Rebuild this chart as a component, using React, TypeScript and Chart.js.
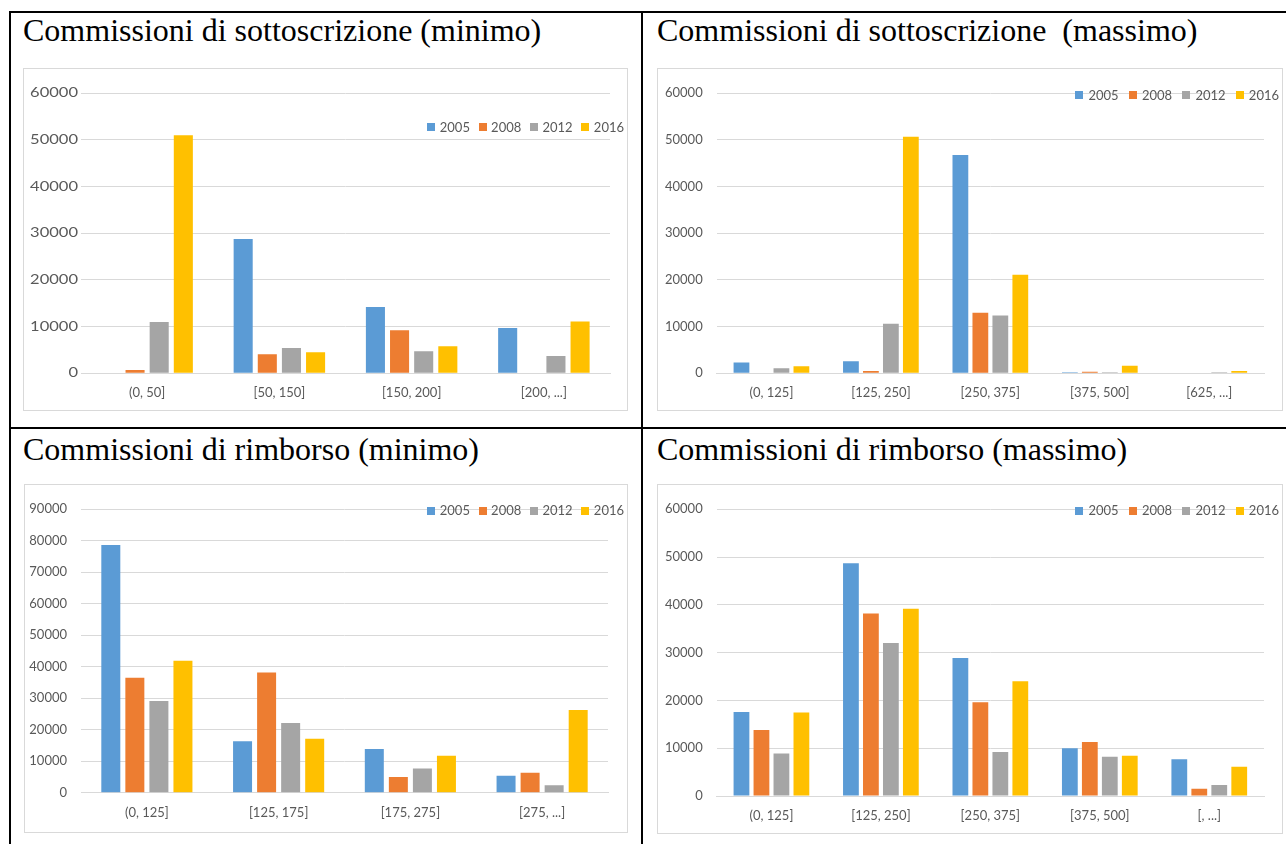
import React, { useEffect, useRef } from "react";
import { Chart, registerables } from "chart.js";

Chart.register(...registerables);

// ---------- data ----------
const years = ["2005", "2008", "2012", "2016"];
const seriesColors = ["#5B9BD5", "#ED7D31", "#A5A5A5", "#FFC000"];

const subMinCategories = ["(0, 50]", "[50, 150]", "[150, 200]", "[200, ...]"];
const subMin2005 = [0, 28800, 14200, 9700];
const subMin2008 = [700, 4100, 9200, 0];
const subMin2012 = [11000, 5400, 4700, 3700];
const subMin2016 = [51000, 4500, 5800, 11100];

const subMaxCategories = ["(0, 125]", "[125, 250]", "[250, 375]", "[375, 500]", "[625, ...]"];
const subMax2005 = [2300, 2600, 46800, 200, 0];
const subMax2008 = [0, 500, 13000, 350, 0];
const subMax2012 = [1100, 10600, 12400, 200, 200];
const subMax2016 = [1500, 50700, 21100, 1600, 500];

const redMinCategories = ["(0, 125]", "[125, 175]", "[175, 275]", "[275, ...]"];
const redMin2005 = [78700, 16300, 13900, 5400];
const redMin2008 = [36500, 38200, 5000, 6300];
const redMin2012 = [29100, 22100, 7700, 2400];
const redMin2016 = [41900, 17100, 11700, 26300];

const redMaxCategories = ["(0, 125]", "[125, 250]", "[250, 375]", "[375, 500]", "[, ...]"];
const redMax2005 = [17600, 48700, 28900, 10000, 7700];
const redMax2008 = [13800, 38200, 19600, 11300, 1500];
const redMax2012 = [8900, 32000, 9200, 8200, 2300];
const redMax2016 = [17500, 39200, 24000, 8400, 6100];

const titles = [
  "Commissioni di sottoscrizione (minimo)",
  "Commissioni di sottoscrizione  (massimo)",
  "Commissioni di rimborso (minimo)",
  "Commissioni di rimborso (massimo)",
];
const yMaxes = [60000, 60000, 90000, 60000];
const yStep = 10000;

// ---------- styling / layout ----------
const TEXT = "#595959";
const GRID = "#d9d9d9";
const SANS = "Lato, 'Open Sans', sans-serif";
const SERIF = "'Liberation Serif', 'Times New Roman', serif";

type Layout = {
  left: number; top: number; w: number; h: number;
  yW: number; padTop: number; padRight: number; xH: number;
  legendDy: number; legendGapIn: number; legendGapOut: number; yStretch: number;
};

const layouts: Layout[] = [
  { left: 23, top: 68, w: 603, h: 341, yW: 57, padTop: 24.3, padRight: 17, xH: 36.7, legendDy: 33.7, legendGapIn: 4.5, legendGapOut: 8.7, yStretch: 1.27 },
  { left: 657, top: 68, w: 624, h: 341, yW: 58.7, padTop: 24.3, padRight: 18, xH: 36.7, legendDy: 1.7, legendGapIn: 5, legendGapOut: 10.3, yStretch: 0 },
  { left: 24, top: 484, w: 602, h: 347, yW: 56, padTop: 24.3, padRight: 19, xH: 39.3, legendDy: 1.4, legendGapIn: 4.5, legendGapOut: 8.7, yStretch: 0 },
  { left: 657, top: 484, w: 624, h: 348, yW: 58.7, padTop: 24.3, padRight: 18, xH: 37, legendDy: 1.4, legendGapIn: 5, legendGapOut: 10.3, yStretch: 0 },
];

const titlePos = [
  { left: 23, top: 14 },
  { left: 657, top: 14 },
  { left: 23, top: 433 },
  { left: 657, top: 433 },
];

const legendPlugin = {
  id: "cornerLegend",
  afterDraw(chart: any, _args: any, opts: any) {
    const ctx = chart.ctx;
    const area = chart.chartArea;
    ctx.save();
    ctx.font = `13px ${SANS}`;
    const box = 8, gapIn = opts.gapIn, gapOut = opts.gapOut;
    const items = chart.data.datasets.map((d: any) => ({
      label: d.label, color: d.backgroundColor, w: ctx.measureText(d.label).width,
    }));
    let total = 0;
    items.forEach((it: any, i: number) => {
      total += box + gapIn + it.w + (i < items.length - 1 ? gapOut : 0);
    });
    let x = chart.width - 3 - total;
    const y = area.top + opts.dy;
    ctx.textBaseline = "middle";
    ctx.textAlign = "left";
    items.forEach((it: any) => {
      ctx.fillStyle = it.color;
      ctx.fillRect(Math.round(x), Math.round(y - box / 2), box, box);
      x += box + gapIn;
      ctx.fillStyle = TEXT;
      ctx.fillText(it.label, x, y + 0.5);
      x += it.w + gapOut;
    });
    ctx.restore();
  },
};

const stretchTicksPlugin = {
  id: "stretchTicks",
  afterDraw(chart: any, _args: any, opts: any) {
    if (!opts.factor) return;
    const ctx = chart.ctx;
    const ys = chart.scales.y;
    const right = chart.chartArea.left - 3;
    ctx.save();
    ctx.font = `13px ${SANS}`;
    ctx.fillStyle = TEXT;
    ctx.textAlign = "right";
    ctx.textBaseline = "middle";
    ys.ticks.forEach((t: any, i: number) => {
      const y = ys.getPixelForTick(i);
      ctx.save();
      ctx.translate(right, y);
      ctx.scale(opts.factor, 1);
      ctx.fillText(String(t.value), 0, 0);
      ctx.restore();
    });
    ctx.restore();
  },
};

function BarChart({ idx, categories, series }: { idx: number; categories: string[]; series: number[][] }) {
  const ref = useRef<HTMLCanvasElement | null>(null);
  const L = layouts[idx];
  useEffect(() => {
    if (!ref.current) return;
    const chart = new Chart(ref.current, {
      type: "bar",
      data: {
        labels: categories,
        datasets: series.map((s, i) => ({
          label: years[i],
          data: s,
          backgroundColor: seriesColors[i],
          borderWidth: 0,
          categoryPercentage: 0.73,
          barPercentage: 0.79,
        })),
      },
      options: {
        responsive: false,
        animation: false,
        devicePixelRatio: 1,
        layout: { padding: { top: L.padTop, right: L.padRight, left: 0, bottom: 0 } },
        plugins: {
          legend: { display: false },
          tooltip: { enabled: false },
          cornerLegend: { dy: L.legendDy, gapIn: L.legendGapIn, gapOut: L.legendGapOut },
          stretchTicks: { factor: L.yStretch },
        } as any,
        scales: {
          x: {
            grid: { display: false, drawTicks: false },
            border: { display: true, color: GRID },
            ticks: { color: TEXT, font: { family: SANS, size: 13 }, padding: 12, maxRotation: 0, autoSkip: false },
            afterFit: (s: any) => { s.height = L.xH; },
          },
          y: {
            min: 0,
            max: yMaxes[idx],
            grid: { color: GRID, drawTicks: false },
            border: { display: false },
            ticks: {
              stepSize: yStep,
              color: TEXT,
              font: { family: SANS, size: 13 },
              padding: 14,
              display: !L.yStretch,
              callback: (v: any) => String(v),
            },
            afterFit: (s: any) => { s.width = L.yW; },
          },
        },
      } as any,
      plugins: [legendPlugin, stretchTicksPlugin],
    });
    return () => chart.destroy();
  }, []);
  return (
    <div
      style={{
        position: "absolute",
        left: L.left,
        top: L.top,
        width: L.w,
        height: L.h,
        border: `1px solid ${GRID}`,
        background: "#fff",
      }}
    >
      <canvas ref={ref} width={L.w} height={L.h} style={{ display: "block", width: L.w, height: L.h }} />
    </div>
  );
}

const line = (left: number, top: number, width: number, height: number) => (
  <div style={{ position: "absolute", left, top, width, height, background: "#000" }} />
);

export default function App() {
  const chartsData = [
    { categories: subMinCategories, series: [subMin2005, subMin2008, subMin2012, subMin2016] },
    { categories: subMaxCategories, series: [subMax2005, subMax2008, subMax2012, subMax2016] },
    { categories: redMinCategories, series: [redMin2005, redMin2008, redMin2012, redMin2016] },
    { categories: redMaxCategories, series: [redMax2005, redMax2008, redMax2012, redMax2016] },
  ];
  return (
    <div
      style={{
        position: "absolute",
        left: 0,
        top: 0,
        width: 1286,
        height: 844,
        overflow: "hidden",
        background: "#fff",
      }}
    >
      {line(9, 11, 1277, 2)}
      {line(9, 11, 2, 833)}
      {line(641, 11, 2, 833)}
      {line(9, 427, 1277, 2)}
      {titles.map((t, i) => (
        <div
          key={i}
          style={{
            position: "absolute",
            left: titlePos[i].left,
            top: titlePos[i].top,
            fontFamily: SERIF,
            fontSize: 32,
            lineHeight: "32px",
            color: "#000",
            whiteSpace: "pre",
          }}
        >
          {t}
        </div>
      ))}
      {chartsData.map((c, i) => (
        <BarChart key={i} idx={i} categories={c.categories} series={c.series} />
      ))}
    </div>
  );
}
